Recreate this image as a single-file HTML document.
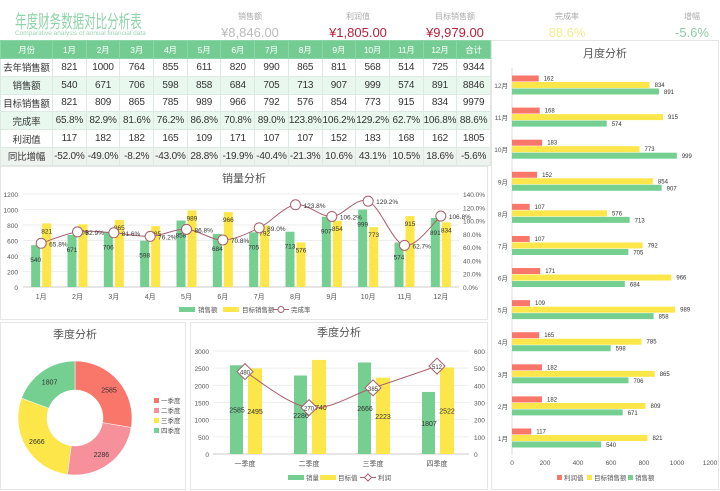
<!DOCTYPE html>
<html><head><meta charset="utf-8">
<style>
*{margin:0;padding:0;box-sizing:border-box}
body{width:720px;height:491px;background:#fff;font-family:"Liberation Sans","Noto Sans CJK SC",sans-serif;position:relative;overflow:hidden}
.abs{position:absolute}
.kpi{position:absolute;text-align:center;width:120px;top:11px}
.kpi .l{font-size:8px;color:#aaa}
.kpi .v{font-size:13px;margin-top:3px}
table{position:absolute;left:0;top:40px;width:490px;border-collapse:collapse;font-size:10px;color:#333;table-layout:fixed}
td{border:1px solid #dfe9e3;text-align:center;height:17.8px;padding:0;white-space:nowrap;overflow:hidden;letter-spacing:-0.2px}
td:first-child{font-size:9.5px}
tr.h td{background:#74cc93;color:#fff;font-size:8.5px;height:18px;border-color:#8bd6a5}
tr.g td{background:#e9f8ef}
tr.z td{background:#eef3f0}
.panel{position:absolute;border:1px solid #e6e6e6;background:#fff}
</style></head><body>
<div class="abs" style="left:15px;top:8px;font-size:18px;color:#8fd3a8;transform:scaleX(0.64);transform-origin:left top;white-space:nowrap">年度财务数据对比分析表</div>
<div class="abs" style="left:15px;top:30px;font-size:6.5px;color:#9cd5b0;white-space:nowrap">Comparative analysis of annual financial data</div>
<div class="kpi" style="left:190px"><div class="l">销售额</div><div class="v" style="color:#bbb">¥8,846.00</div></div>
<div class="kpi" style="left:298px"><div class="l">利润值</div><div class="v" style="color:#b8203a">¥1,805.00</div></div>
<div class="kpi" style="left:395px"><div class="l">目标销售额</div><div class="v" style="color:#b8203a">¥9,979.00</div></div>
<div class="kpi" style="left:507px"><div class="l">完成率</div><div class="v" style="color:#f3ee8c">88.6%</div></div>
<div class="kpi" style="left:632px"><div class="l">增幅</div><div class="v" style="color:#8fc9a8">-5.6%</div></div>

<table>
<colgroup><col style="width:52px"><col span="13" style="width:33.7px"></colgroup>
<tr class="h"><td>月份</td><td>1月</td><td>2月</td><td>3月</td><td>4月</td><td>5月</td><td>6月</td><td>7月</td><td>8月</td><td>9月</td><td>10月</td><td>11月</td><td>12月</td><td>合计</td></tr>
<tr><td>去年销售额</td><td>821</td><td>1000</td><td>764</td><td>855</td><td>611</td><td>820</td><td>990</td><td>865</td><td>811</td><td>568</td><td>514</td><td>725</td><td>9344</td></tr>
<tr class="g"><td>销售额</td><td>540</td><td>671</td><td>706</td><td>598</td><td>858</td><td>684</td><td>705</td><td>713</td><td>907</td><td>999</td><td>574</td><td>891</td><td>8846</td></tr>
<tr><td>目标销售额</td><td>821</td><td>809</td><td>865</td><td>785</td><td>989</td><td>966</td><td>792</td><td>576</td><td>854</td><td>773</td><td>915</td><td>834</td><td>9979</td></tr>
<tr class="g"><td>完成率</td><td>65.8%</td><td>82.9%</td><td>81.6%</td><td>76.2%</td><td>86.8%</td><td>70.8%</td><td>89.0%</td><td>123.8%</td><td>106.2%</td><td>129.2%</td><td>62.7%</td><td>106.8%</td><td>88.6%</td></tr>
<tr><td>利润值</td><td>117</td><td>182</td><td>182</td><td>165</td><td>109</td><td>171</td><td>107</td><td>107</td><td>152</td><td>183</td><td>168</td><td>162</td><td>1805</td></tr>
<tr class="z"><td>同比增幅</td><td>-52.0%</td><td>-49.0%</td><td>-8.2%</td><td>-43.0%</td><td>28.8%</td><td>-19.9%</td><td>-40.4%</td><td>-21.3%</td><td>10.6%</td><td>43.1%</td><td>10.5%</td><td>18.6%</td><td>-5.6%</td></tr>
</table>

<div class="panel" style="left:0;top:166px;width:488px;height:154px"></div>
<div class="panel" style="left:0;top:322px;width:186px;height:168px"></div>
<div class="panel" style="left:190px;top:322px;width:298px;height:168px"></div>
<div class="panel" style="left:491px;top:40px;width:228px;height:450px"></div>

<svg id="svg" width="720" height="491" style="position:absolute;left:0;top:0" font-family="Liberation Sans, Noto Sans CJK SC, sans-serif"></svg>

<script>
const months=['1月','2月','3月','4月','5月','6月','7月','8月','9月','10月','11月','12月'];
const sales=[540,671,706,598,858,684,705,713,907,999,574,891];
const target=[821,809,865,785,989,966,792,576,854,773,915,834];
const rate=[65.8,82.9,81.6,76.2,86.8,70.8,89.0,123.8,106.2,129.2,62.7,106.8];
const profit=[117,182,182,165,109,171,107,107,152,183,168,162];
const leftTicks=[0,200,400,600,800,1000,1200];
const rightTicks=[0,20,40,60,80,100,120,140];
const quarters=['一季度','二季度','三季度','四季度'];
const qSales=[2585,2286,2666,1807];
const qTarget=[2495,2740,2223,2522];
const qProfit=[480,270,385,512];
const qLeftTicks=[0,500,1000,1500,2000,2500,3000];
const qRightTicks=[0,100,200,300,400,500,600];
const hTicks=[0,200,400,600,800,1000,1200];

const G='#74cf91',Y='#fce64a',R='#f8766a',P='#f6919c',L='#a8606e';
const svg=document.getElementById('svg');
const NS='http://www.w3.org/2000/svg';
function el(t,a,txt){const e=document.createElementNS(NS,t);for(const k in a)e.setAttribute(k,a[k]);if(txt!==undefined)e.textContent=txt;svg.appendChild(e);return e;}
function smooth(pts){let d='M'+pts[0][0]+','+pts[0][1];for(let i=0;i<pts.length-1;i++){const p0=pts[i-1]||pts[i],p1=pts[i],p2=pts[i+1],p3=pts[i+2]||p2;d+=' C'+(p1[0]+(p2[0]-p0[0])/6)+','+(p1[1]+(p2[1]-p0[1])/6)+' '+(p2[0]-(p3[0]-p1[0])/6)+','+(p2[1]-(p3[1]-p1[1])/6)+' '+p2[0]+','+p2[1];}return d;}

let e;
e=el('text',{x:244,y:182,'font-size':11,fill:'#555','text-anchor':'middle'},'销量分析');

const mx0=23,mx1=459,my0=287,my1=194;
const mbw=(mx1-mx0)/12;
const mX=i=>mx0+mbw*(i+0.5);
const mY=v=>my0-(v/1200)*(my0-my1);
const mR=v=>my0-(v/140)*(my0-my1);
leftTicks.forEach(t=>{el('line',{x1:mx0,x2:mx1,y1:mY(t),y2:mY(t),stroke:t?'#eee':'#ccc'});el('text',{x:18,y:mY(t)+3,'font-size':6.5,fill:'#555','text-anchor':'end'},t);});
rightTicks.forEach(t=>{el('text',{x:463,y:mR(t)+3,'font-size':6.5,fill:'#555'},t.toFixed(1)+'%');});
months.forEach((m,i)=>{
 const c=mX(i);
 e=el('rect',{x:c-10,y:mY(sales[i]),width:9,height:my0-mY(sales[i]),fill:G});
 
 e=el('rect',{x:c+1,y:mY(target[i]),width:9,height:my0-mY(target[i]),fill:Y});
 
 el('text',{x:c-5.5,y:mY(sales[i])+17,'font-size':6.5,fill:'#333','text-anchor':'middle'},sales[i]);
 el('text',{x:c+5.5,y:mY(target[i])+10,'font-size':6.5,fill:'#333','text-anchor':'middle'},target[i]);
 el('text',{x:c,y:299,'font-size':7,fill:'#555','text-anchor':'middle'},m);
});
const mpts=rate.map((r,i)=>[mX(i),mR(r)]);
e=el('path',{d:smooth(mpts),fill:'none',stroke:L,'stroke-width':1});

mpts.forEach((p,i)=>{el('circle',{cx:p[0],cy:p[1],r:5,fill:'#fff',stroke:L,'stroke-width':1});el('text',{x:p[0]+8,y:p[1]+3,'font-size':6.5,fill:'#333'},rate[i].toFixed(1)+'%');});
el('rect',{x:179,y:307,width:16,height:5,fill:G});el('text',{x:198,y:312,'font-size':6.5,fill:'#555'},'销售额');
el('rect',{x:223,y:307,width:16,height:5,fill:Y});el('text',{x:242,y:312,'font-size':6.5,fill:'#555'},'目标销售额');
el('line',{x1:273,x2:289,y1:309.5,y2:309.5,stroke:L});el('circle',{cx:281,cy:309.5,r:3,fill:'#fff',stroke:L});el('text',{x:291,y:312,'font-size':6.5,fill:'#555'},'完成率');

el('text',{x:75,y:338,'font-size':11,fill:'#555','text-anchor':'middle'},'季度分析');
const cx=75,cy=418,ro=57,ri=28;const tot=qSales.reduce((a,b)=>a+b,0);let ang=-Math.PI/2;
const pcols=[R,P,Y,G];
qSales.forEach((v,i)=>{const a2=ang+v/tot*2*Math.PI;const lg=(a2-ang)>Math.PI?1:0;
 const p=(r,a)=>[cx+r*Math.cos(a),cy+r*Math.sin(a)];const A=p(ro,ang),B=p(ro,a2),C=p(ri,a2),D=p(ri,ang);
 e=el('path',{d:`M${A}A${ro},${ro} 0 ${lg} 1 ${B}L${C}A${ri},${ri} 0 ${lg} 0 ${D}Z`,fill:pcols[i],stroke:'#fff','stroke-width':0.5});
 
 const m=(ang+a2)/2;const lp=p((ro+ri)/2+2,m);el('text',{x:lp[0],y:lp[1]+3,'font-size':7,fill:'#333','text-anchor':'middle'},v);
 ang=a2;});
quarters.forEach((q,i)=>{el('rect',{x:154,y:398+i*10,width:5,height:5,fill:pcols[i]});el('text',{x:161,y:403+i*10,'font-size':6.5,fill:'#555'},q);});

el('text',{x:339,y:336,'font-size':11,fill:'#555','text-anchor':'middle'},'季度分析');
const qx0=213,qx1=469,qy0=454,qy1=351;const qbw=(qx1-qx0)/4;
const qX=i=>qx0+qbw*(i+0.5);const qY=v=>qy0-v/3000*(qy0-qy1);const qR=v=>qy0-v/600*(qy0-qy1);
qLeftTicks.forEach(t=>{el('line',{x1:qx0,x2:qx1,y1:qY(t),y2:qY(t),stroke:t?'#eee':'#ccc'});el('text',{x:209,y:qY(t)+3,'font-size':6.5,fill:'#555','text-anchor':'end'},t);});
qRightTicks.forEach(t=>{el('text',{x:474,y:qR(t)+3,'font-size':6.5,fill:'#555'},t);});
quarters.forEach((q,i)=>{const c=qX(i);
 e=el('rect',{x:c-15,y:qY(qSales[i]),width:13,height:qy0-qY(qSales[i]),fill:G});
 
 e=el('rect',{x:c+3,y:qY(qTarget[i]),width:14,height:qy0-qY(qTarget[i]),fill:Y});
 
 el('text',{x:c-8,y:(qY(qSales[i])+qy0)/2+3,'font-size':7,fill:'#333','text-anchor':'middle'},qSales[i]);
 el('text',{x:c+10,y:(qY(qTarget[i])+qy0)/2+3,'font-size':7,fill:'#333','text-anchor':'middle'},qTarget[i]);
 el('text',{x:c,y:466,'font-size':7,fill:'#555','text-anchor':'middle'},q);});
const qpts=qProfit.map((v,i)=>[qX(i),qR(v)]);
e=el('path',{d:smooth(qpts),fill:'none',stroke:L,'stroke-width':1});

qpts.forEach((p,i)=>{el('path',{d:`M${p[0]},${p[1]-8}L${p[0]+8},${p[1]}L${p[0]},${p[1]+8}L${p[0]-8},${p[1]}Z`,fill:'#fff',stroke:L});el('text',{x:p[0],y:p[1]+3,'font-size':6,fill:'#333','text-anchor':'middle'},qProfit[i]);});
el('rect',{x:288,y:475,width:16,height:5,fill:G});el('text',{x:306,y:480,'font-size':6.5,fill:'#555'},'销量');
el('rect',{x:320,y:475,width:16,height:5,fill:Y});el('text',{x:338,y:480,'font-size':6.5,fill:'#555'},'目标值');
el('line',{x1:360,x2:376,y1:477.5,y2:477.5,stroke:L});el('path',{d:'M368,474L371.5,477.5L368,481L364.5,477.5Z',fill:'#fff',stroke:L});el('text',{x:378,y:480,'font-size':6.5,fill:'#555'},'利润');

el('text',{x:605,y:57,'font-size':11,fill:'#555','text-anchor':'middle'},'月度分析');
const hx0=512,hx1=710;const hX=v=>hx0+v/1200*(hx1-hx0);
const hY=i=>438-i*(438-85)/11;
el('line',{x1:hx0,x2:hx0,y1:68,y2:455,stroke:'#ddd'});
hTicks.forEach(t=>el('text',{x:hX(t),y:465,'font-size':6.5,fill:'#555','text-anchor':'middle'},t));
months.forEach((m,i)=>{const c=hY(i);
 el('text',{x:508,y:c+3,'font-size':6.5,fill:'#555','text-anchor':'end'},m);
 e=el('rect',{x:hx0,y:c-9.5,width:hX(profit[i])-hx0,height:6,fill:R});
 
 e=el('rect',{x:hx0,y:c-3,width:hX(target[i])-hx0,height:6,fill:Y});
 
 e=el('rect',{x:hx0,y:c+3.5,width:hX(sales[i])-hx0,height:6,fill:G});
 
 el('text',{x:hX(profit[i])+5,y:c-4.5,'font-size':6,fill:'#333'},profit[i]);
 el('text',{x:hX(target[i])+5,y:c+2,'font-size':6,fill:'#333'},target[i]);
 el('text',{x:hX(sales[i])+5,y:c+9,'font-size':6,fill:'#333'},sales[i]);});
el('rect',{x:557,y:475,width:5,height:5,fill:R});el('text',{x:564,y:480,'font-size':6.5,fill:'#555'},'利润值');
el('rect',{x:587,y:475,width:5,height:5,fill:Y});el('text',{x:594,y:480,'font-size':6.5,fill:'#555'},'目标销售额');
el('rect',{x:628,y:475,width:5,height:5,fill:G});el('text',{x:635,y:480,'font-size':6.5,fill:'#555'},'销售额');
</script>
</body></html>
